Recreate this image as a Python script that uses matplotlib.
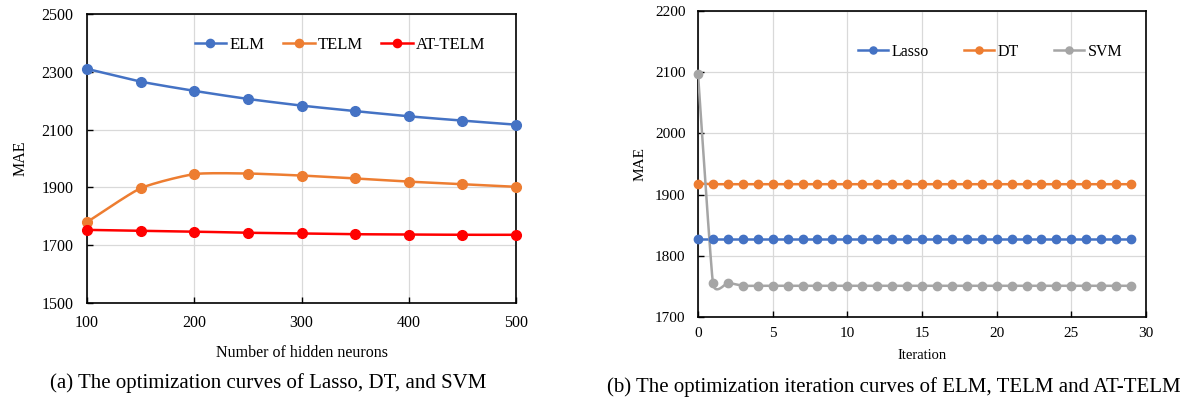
import numpy as np
import matplotlib
matplotlib.use('Agg')
import matplotlib.pyplot as plt

plt.rcParams['font.family'] = ['Liberation Serif', 'DejaVu Serif']

# (a) MAE vs number of hidden neurons
neurons = [100, 150, 200, 250, 300, 350, 400, 450, 500]
elm = [2310, 2266, 2234, 2206, 2183, 2164, 2146, 2131, 2117]
telm = [1780, 1897, 1946, 1948, 1941, 1931, 1920, 1911, 1902]
at_telm = [1753, 1750, 1747, 1743, 1741, 1738, 1737, 1736, 1736]

# (b) MAE vs iteration
iters = list(range(30))
lasso = [1827] * 30
dt = [1918] + [1917] * 29
svm = [2097, 1755, 1756] + [1751] * 27

BLUE = '#4472C4'
ORANGE = '#ED7D31'
RED = '#FF0000'
GRAY = '#A5A5A5'


def smooth(x, y, n=20, k=0.6):
    # cubic curve through the points, tangents damped a bit (Excel-like smoothing)
    x = np.asarray(x, float)
    y = np.asarray(y, float)
    px = np.concatenate([[x[0]], x, [x[-1]]])
    py = np.concatenate([[y[0]], y, [y[-1]]])
    t = np.linspace(0, 1, n)
    h00 = 2 * t ** 3 - 3 * t ** 2 + 1
    h10 = t ** 3 - 2 * t ** 2 + t
    h01 = -2 * t ** 3 + 3 * t ** 2
    h11 = t ** 3 - t ** 2
    xs, ys = [], []
    for i in range(1, len(px) - 2):
        for p, out in ((px, xs), (py, ys)):
            p0, p1, p2, p3 = p[i - 1], p[i], p[i + 1], p[i + 2]
            m1 = k * (p2 - p0) / 2 * (2 if i == 1 else 1)
            m2 = k * (p3 - p1) / 2 * (2 if i == len(px) - 3 else 1)
            out.extend(h00 * p1 + h10 * m1 + h01 * p2 + h11 * m2)
    return xs, ys


def draw(ax, x, y, color, label, ms, k=0.6):
    sx, sy = smooth(x, y, k=k)
    ax.plot(sx, sy, color=color, lw=1.8, zorder=3)
    ax.plot(x, y, 'o', color=color, ms=ms, zorder=4, clip_on=False)
    ax.plot([], [], '-o', color=color, lw=1.8, ms=ms * 0.85, label=label)


def style(ax, fs, xpad, ypad):
    ax.grid(True, color='#D9D9D9', lw=0.9)
    ax.set_axisbelow(True)
    for s in ax.spines.values():
        s.set_linewidth(1.2)
        s.set_color('black')
    ax.tick_params(direction='in', length=4, width=1, labelsize=fs)
    ax.tick_params(axis='x', pad=xpad)
    ax.tick_params(axis='y', pad=ypad)


fig = plt.figure(figsize=(11.94, 4.01), dpi=100)

ax1 = fig.add_axes([0.0729, 0.2444, 0.3593, 0.7207])
draw(ax1, neurons, elm, BLUE, 'ELM', 7)
draw(ax1, neurons, telm, ORANGE, 'TELM', 7)
draw(ax1, neurons, at_telm, RED, 'AT-TELM', 7)
ax1.set_xlim(100, 500)
ax1.set_ylim(1500, 2500)
ax1.set_xticks(range(100, 501, 100))
ax1.set_yticks(range(1500, 2501, 200))
style(ax1, 11.5, 9, 10)
ax1.set_xlabel('Number of hidden neurons', fontsize=11.5, labelpad=10)
ax1.set_ylabel('MAE', fontsize=11.5, labelpad=9)
ax1.legend(loc='center', bbox_to_anchor=(0.59, 0.893), ncol=3, frameon=False,
           fontsize=12, handlelength=1.9, handletextpad=0.2, columnspacing=1.1)

ax2 = fig.add_axes([0.5846, 0.2095, 0.3752, 0.763])
draw(ax2, iters, lasso, BLUE, 'Lasso', 6)
draw(ax2, iters, dt, ORANGE, 'DT', 6)
draw(ax2, iters, svm, GRAY, 'SVM', 6, k=0.4)
ax2.set_xlim(0, 30)
ax2.set_ylim(1700, 2200)
ax2.set_xticks(range(0, 31, 5))
ax2.set_yticks(range(1700, 2201, 100))
style(ax2, 11, 7, 9)
ax2.set_xlabel('Iteration', fontsize=10.5, labelpad=7)
ax2.set_ylabel('MAE', fontsize=11, labelpad=6)
ax2.legend(loc='center', bbox_to_anchor=(0.652, 0.866), ncol=3, frameon=False,
           fontsize=11.5, handlelength=1.9, handletextpad=0.2, columnspacing=2.2)

fig.text(268 / 1194, 1 - 383 / 401, '(a) The optimization curves of Lasso, DT, and SVM',
         ha='center', va='center', fontsize=15)
fig.text(894 / 1194, 1 - 387 / 401, '(b) The optimization iteration curves of ELM, TELM and AT-TELM',
         ha='center', va='center', fontsize=15)

fig.savefig('out.png', dpi=100)
